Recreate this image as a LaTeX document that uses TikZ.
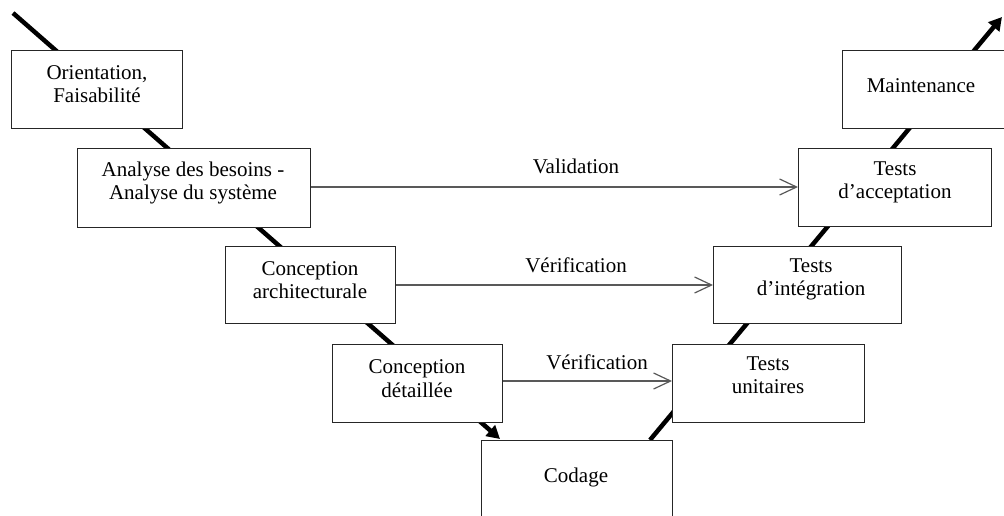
\documentclass[tikz,border=0pt]{standalone}
\usepackage{fontspec}
\setmainfont{Liberation Serif}
\usetikzlibrary{arrows.meta}
\begin{document}
\begin{tikzpicture}[x=1pt,y=-1pt,
  phase/.style={draw=black!85, line width=1.1pt, fill=white, anchor=north west, inner sep=0pt},
  % base anchor of a two-line text is the baseline of its last line
  txt/.style={anchor=base, align=center, inner sep=0pt, font=\fontsize{21}{23.5}\selectfont},
  vline/.style={line width=4.5pt, black},
  link/.style={draw=black!65, line width=1.2pt, -{Straight Barb[length=17pt,width=16pt,line width=1.2pt]}},
  linklabel/.style={anchor=base, inner sep=0pt, font=\fontsize{21}{23.5}\selectfont}]
\clip (0,0) rectangle (1004,515);
\fill[white] (0,0) rectangle (1004,515);

% the two branches of the V
\coordinate (vstart) at (13,13);
\coordinate (vbottom) at (500,439);
\coordinate (vup) at (650,440);
\coordinate (vend) at (1002,17);
\draw[vline, -{Triangle[length=13pt,width=14pt]}] (vstart) -- (vbottom);
\draw[vline, -{Triangle[length=13pt,width=14pt]}] (vup) -- (vend);

% descending phases
\node[phase, minimum width=171pt, minimum height=78pt] (orient) at (11,50) {};
\node[phase, minimum width=233pt, minimum height=79pt] (besoins) at (77,148) {};
\node[phase, minimum width=170pt, minimum height=77pt] (archi) at (225,246) {};
\node[phase, minimum width=170pt, minimum height=78pt] (detail) at (332,344) {};
\node[phase, minimum width=191pt, minimum height=100pt] (codage) at (481,440) {};

% ascending phases
\node[phase, minimum width=192pt, minimum height=78pt] (unit) at (672,344) {};
\node[phase, minimum width=188pt, minimum height=77pt] (integ) at (713,246) {};
\node[phase, minimum width=193pt, minimum height=78pt] (accept) at (798,148) {};
\node[phase, minimum width=170pt, minimum height=78pt] (maint) at (842,50) {};

% texts of the phases
\node[txt] (t-orient) at (97,102.5) {Orientation,\\Faisabilité};
\node[txt] (t-besoins) at (193,199.5) {Analyse des besoins -\\Analyse du système};
\node[txt] (t-archi) at (310,298.5) {Conception\\architecturale};
\node[txt] (t-detail) at (417,397) {Conception\\détaillée};
\node[txt] (t-codage) at (576,482) {Codage};
\node[txt] (t-unit) at (768,393.5) {Tests\\unitaires};
\node[txt] (t-integ) at (811,295.5) {Tests\\d’intégration};
\node[txt] (t-accept) at (895,198.5) {Tests\\d’acceptation};
\node[txt] (t-maint) at (921,92) {Maintenance};

% validation and verification links
\draw[link] (besoins.east |- 0,187) -- (accept.west |- 0,187);
\draw[link] (archi.east |- 0,285) -- (integ.west |- 0,285);
\draw[link] (detail.east |- 0,381) -- (unit.west |- 0,381);
\node[linklabel] (l-valid) at (576,173) {Validation};
\node[linklabel] (l-verif1) at (576,272) {Vérification};
\node[linklabel] (l-verif2) at (597,369) {Vérification};
\end{tikzpicture}
\end{document}
